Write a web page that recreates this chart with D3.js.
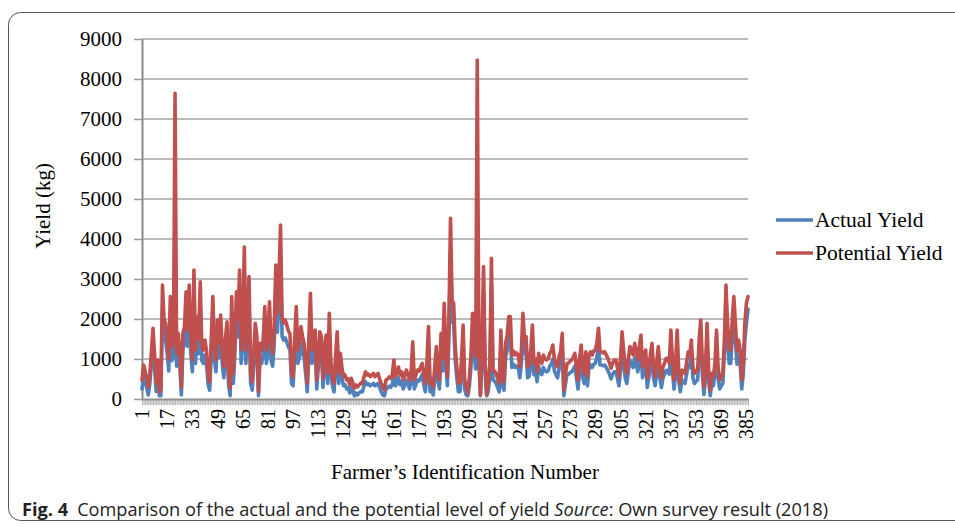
<!DOCTYPE html>
<html><head><meta charset="utf-8">
<script src="https://cdnjs.cloudflare.com/ajax/libs/d3/7.8.5/d3.min.js"></script>
<style>body{margin:0;background:#fff}svg{display:block}</style>
</head><body>
<svg id="c" width="955" height="527"></svg>
<script>
const tickLabels = [1,17,33,49,65,81,97,113,129,145,161,177,193,209,225,241,257,273,289,305,321,337,353,369,385];
const yTicks = [0,1000,2000,3000,4000,5000,6000,7000,8000,9000];
const seriesNames = ["Actual Yield","Potential Yield"];
const potential = [
475,850,700,500,300,650,1200,1770,1100,400,
975,180,250,2850,2000,1890,1500,1000,2560,1300,
1500,7640,1140,1640,1200,300,1640,1800,2680,1725,
2850,1500,975,3225,1225,2060,1500,2930,1300,1225,
1475,1200,600,430,1500,2560,1300,975,1975,1400,
2100,1200,800,1500,1930,600,270,2560,640,1500,
2680,2000,3225,1225,1800,3800,1225,2000,3060,640,
430,1200,1890,1560,180,1390,1225,1500,2310,1225,
1600,2430,1310,1140,1800,3350,2140,3000,4350,2015,
1900,1975,1850,1700,1640,640,560,1500,2310,1225,
1400,1810,1560,1390,900,390,1500,2640,1225,1500,
1725,475,1100,1680,1560,516,1200,1600,640,2140,
900,560,390,1100,1680,640,1140,800,560,600,
475,500,350,516,400,270,350,300,350,400,
390,550,680,600,620,560,600,640,560,600,
640,500,390,300,225,475,500,550,520,600,
975,560,650,800,600,680,475,600,725,600,
475,700,1430,475,600,725,700,800,890,600,
390,900,1810,390,500,300,800,1310,700,475,
1640,1000,2390,1200,560,2000,4520,2475,2390,1310,
800,390,390,1000,1850,475,300,140,560,1100,
2140,1500,1060,8475,1310,100,1500,3310,890,100,
400,890,3520,725,700,640,500,390,1725,600,
430,1400,1600,2060,2060,1100,1200,1100,1150,1100,
800,1200,2140,1500,1560,800,850,1200,1850,890,
1000,680,1140,950,890,1100,1000,975,1000,1140,
1200,1350,1000,890,800,1060,1200,1640,225,600,
890,900,950,975,1050,1140,800,475,1000,1350,
800,640,1180,560,1100,1180,1100,1200,1225,1400,
1770,1180,1180,1150,1180,1100,1015,900,770,900,
975,975,800,560,1000,1680,1200,800,640,1000,
1310,1225,1100,1390,1200,975,1300,1600,800,1100,
1225,516,800,1100,1390,800,560,900,1310,800,
516,800,900,1015,1015,900,1725,1000,475,900,
1725,700,390,725,700,640,900,1180,1100,1475,
800,640,700,725,1500,1975,900,310,800,1890,
700,225,640,560,900,1725,800,475,560,640,
1500,2850,1890,1225,1225,2000,2560,1890,1200,1475,
1225,475,900,1890,2400,2560];
const actual = [
250,570,450,280,100,400,870,1350,790,190,
680,80,80,2270,1550,1460,1130,700,2030,960,
1130,1700,820,1240,870,100,1240,1380,2130,1320,
2270,1130,680,2590,890,1600,1130,2340,960,890,
1100,870,360,220,1130,2030,960,680,1530,1040,
1640,870,530,1130,1490,360,80,2030,390,1130,
2130,1550,2590,890,1380,3080,890,1550,2450,390,
220,870,1460,1180,80,1030,890,1130,1810,890,
1210,1920,960,820,1380,2700,1670,2400,3550,1560,
1470,1530,1420,1300,1240,390,330,1130,1810,890,
1040,1390,1180,1030,620,180,1130,2090,890,1130,
1320,250,790,1280,1180,290,870,1210,390,1670,
620,330,180,790,1280,390,820,530,330,360,
250,280,150,290,190,80,150,100,150,190,
180,320,430,360,380,330,360,390,330,360,
390,280,180,100,80,250,280,320,290,360,
680,330,400,530,360,430,250,360,470,360,
250,450,1070,250,360,470,450,530,610,360,
180,620,1390,180,280,100,530,960,450,250,
1240,700,1880,870,330,1550,3690,1950,1880,960,
530,180,180,700,1420,250,100,80,330,790,
1670,1130,750,1600,960,80,1130,2660,610,80,
190,610,2840,470,450,390,280,180,1320,360,
220,1040,1210,1600,1600,790,870,790,830,790,
530,870,1670,1130,1180,530,570,870,1420,610,
700,430,820,660,610,790,700,680,700,820,
870,1000,700,610,530,750,870,1240,80,360,
610,620,660,680,740,820,530,250,700,1000,
530,390,850,330,790,850,790,870,890,1040,
1350,850,850,830,850,790,710,620,500,620,
680,680,530,330,700,1280,870,530,390,700,
960,890,790,1030,870,680,960,1210,530,790,
890,290,530,790,1030,530,330,620,960,530,
290,530,620,710,710,620,1320,700,250,620,
1320,450,180,470,450,390,620,850,790,1100,
530,390,450,470,1130,1530,620,110,530,1460,
450,80,390,330,620,1320,530,250,330,390,
1130,2270,1460,890,890,1550,2030,1460,870,1100,
890,250,620,1460,1890,2250];
const farmers = d3.range(1, potential.length + 1);
const colors = ["#4F81BD", "#C0504D"];

const svg = d3.select("#c");
const serif = "'Liberation Serif','Times New Roman',serif";

// outer frame
svg.append("rect").attr("x", 8.5).attr("y", 12.5).attr("width", 1000).attr("height", 508)
  .attr("rx", 12).attr("fill", "none").attr("stroke", "#555").attr("stroke-width", 1);

const x = d3.scalePoint().domain(farmers).range([142, 748]);
const y = d3.scaleLinear().domain([0, 9000]).range([399, 39]);

// gridlines
svg.append("g").selectAll("line").data(yTicks.filter(d => d > 0)).join("line")
  .attr("x1", 142).attr("x2", 748).attr("y1", d => y(d)).attr("y2", d => y(d))
  .attr("stroke", "#a3a3a3").attr("stroke-width", 1.5);

// y axis
const yAxis = d3.axisLeft(y).tickValues(yTicks).tickFormat(d3.format("d"))
  .tickSize(8).tickPadding(12).tickSizeOuter(0);
const gy = svg.append("g").attr("transform", "translate(142,0)").call(yAxis);
gy.select(".domain").attr("stroke", "#888").attr("stroke-width", 2);
gy.selectAll(".tick line").attr("stroke", "#999").attr("stroke-width", 1.5);
gy.selectAll(".tick text").attr("font-family", serif).attr("font-size", 21).attr("fill", "#000");

// x axis: ticks at every category
const xAxis = d3.axisBottom(x).tickValues(farmers).tickSize(6).tickSizeOuter(0).tickFormat("");
const gx = svg.append("g").attr("transform", "translate(0,399)").call(xAxis);
gx.select(".domain").attr("stroke", "#888").attr("stroke-width", 2);
gx.selectAll(".tick line").attr("stroke", "#999").attr("stroke-width", 0.8);

// x tick labels
svg.append("g").selectAll("text").data(tickLabels).join("text")
  .attr("transform", d => `translate(${x(d)},409) rotate(-90)`)
  .attr("text-anchor", "end").attr("dy", "0.35em")
  .attr("font-family", serif).attr("font-size", 20).attr("fill", "#000")
  .text(d => d);

// lines
const line = vals => d3.line().x((d, i) => x(farmers[i])).y(d => y(d))(vals);
[actual, potential].forEach((vals, k) => {
  svg.append("path").attr("d", line(vals)).attr("fill", "none")
    .attr("stroke", colors[k]).attr("stroke-width", 3.6)
    .attr("stroke-linejoin", "round").attr("stroke-linecap", "round");
});

// axis titles
svg.append("text").attr("transform", "translate(50,206) rotate(-90)")
  .attr("text-anchor", "middle").attr("font-family", serif).attr("font-size", 21).text("Yield (kg)");
svg.append("text").attr("x", 465).attr("y", 479)
  .attr("text-anchor", "middle").attr("font-family", serif).attr("font-size", 21)
  .text("Farmer\u2019s Identification Number");

// legend
seriesNames.forEach((n, k) => {
  const ly = 220 + k * 33;
  svg.append("line").attr("x1", 776).attr("x2", 813).attr("y1", ly).attr("y2", ly)
    .attr("stroke", colors[k]).attr("stroke-width", 3.6);
  svg.append("text").attr("x", 815).attr("y", ly).attr("dy", "0.33em")
    .attr("font-family", serif).attr("font-size", 21.5).text(n);
});

// caption
const cap = svg.append("text").attr("x", 22).attr("y", 516)
  .attr("font-family", "'Open Sans','Noto Sans',sans-serif").attr("font-size", 18).attr("fill", "#222")
  .attr("textLength", 806).attr("lengthAdjust", "spacingAndGlyphs");
cap.append("tspan").attr("font-weight", "bold").text("Fig. 4");
cap.append("tspan").text("\u2002Comparison of the actual and the potential level of yield ");
cap.append("tspan").attr("font-style", "italic").text("Source");
cap.append("tspan").text(": Own survey result (2018)");
</script>
</body></html>
